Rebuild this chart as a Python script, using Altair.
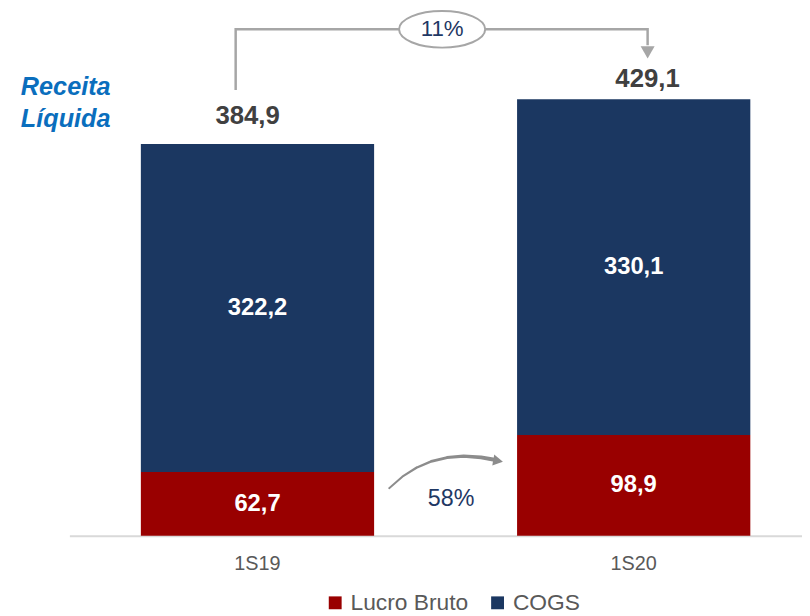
import altair as alt
import pandas as pd

# ---- data ----
periods = ["1S19", "1S20"]
lucro_bruto = [62.7, 98.9]
cogs = [322.2, 330.1]
receita_liquida = [384.9, 429.1]
series_names = ["Lucro Bruto", "COGS"]
series_colors = ["#990000", "#1B3761"]
growth_receita = "11%"
growth_lucro = "58%"
side_title = ["Receita", "Líquida"]

FONT = "Liberation Sans"


def br(v):
    return f"{v:.1f}".replace(".", ",")


rows = []
for i, p in enumerate(periods):
    lb, cg = lucro_bruto[i], cogs[i]
    rows.append(dict(period=p, series=series_names[0], y0=0, y1=lb, mid=lb / 2, label=br(lb)))
    rows.append(dict(period=p, series=series_names[1], y0=lb, y1=lb + cg, mid=lb + cg / 2, label=br(cg)))
bars_df = pd.DataFrame(rows)
tot_df = pd.DataFrame(dict(period=periods, total=receita_liquida,
                           label=[br(v) for v in receita_liquida]))

# annotation geometry (u: 0 = first period centre, 1 = second period centre)
bracket_u = [-0.058, -0.058, 1.037, 1.037]
bracket_y = [438.0, 497.6, 497.6, 482.0]
curve_u = [0.35, 0.385, 0.4224, 0.4618, 0.5039, 0.5479, 0.5942, 0.6263]
curve_y = [46.7, 58.0, 66.8, 73.1, 76.8, 78.3, 77.0, 74.9]
curve_w = [1.2, 1.6, 2.0, 2.4, 2.9, 3.4, 3.9, 4.3]

bracket_df = pd.DataFrame(dict(u=bracket_u, y=bracket_y, i=range(len(bracket_u))))
curve_df = pd.DataFrame(dict(u=curve_u, y=curve_y, w=curve_w))
arrow_down_df = pd.DataFrame(dict(u=[1.037], y=[475.0]))
arrow_right_df = pd.DataFrame(dict(u=[0.6395], y=[73.6]))
ellipse_df = pd.DataFrame(dict(u=[0.4908], y=[497.6], label=[growth_receita]))
pct2_df = pd.DataFrame(dict(u=[0.5145], y=[36.0], label=[growth_lucro]))
title_df = pd.DataFrame(dict(u=[-0.629, -0.629], y=[433.0, 401.8], label=side_title))

# ---- scales ----
x_band = alt.Scale(domain=periods, range=[0, 760], paddingInner=0.38, paddingOuter=0.19)
x_u = alt.Scale(domain=[-0.5, 1.5], range=[0, 760], nice=False, zero=False)
y_s = alt.Scale(domain=[0, 500], nice=False, zero=False)

X = alt.X("period:N", scale=x_band, sort=periods,
          axis=alt.Axis(title=None, ticks=False, domainColor="#D9D9D9", domainWidth=2,
                        labelFontSize=20, labelColor="#595959", labelPadding=18,
                        labelFont=FONT, labelAngle=0, grid=False))
XU = alt.X("u:Q", scale=x_u, axis=None)
YQ = alt.Y("y:Q", scale=y_s, axis=None)

bars = alt.Chart(bars_df).mark_bar().encode(
    x=X,
    y=alt.Y("y0:Q", scale=y_s, axis=None),
    y2="y1:Q",
    color=alt.Color("series:N", scale=alt.Scale(domain=series_names, range=series_colors),
                    legend=alt.Legend(title=None, orient="none", legendX=257, legendY=570,
                                      direction="horizontal", symbolType="square",
                                      symbolSize=169, symbolStrokeWidth=0,
                                      labelFontSize=23, labelColor="#595959", labelFont=FONT,
                                      labelOffset=4, columnPadding=18)),
)

inner = alt.Chart(bars_df).mark_text(font=FONT, fontSize=24, fontWeight="bold",
                                     color="white", baseline="middle").encode(
    x=alt.X("period:N", scale=x_band, sort=periods, axis=None),
    y=alt.Y("mid:Q", scale=y_s, axis=None),
    text="label:N",
)

tot1 = alt.Chart(tot_df).transform_filter(alt.datum.period == periods[0]).mark_text(
    font=FONT, fontSize=26, fontWeight="bold", color="#404040", baseline="middle",
    dx=-10, dy=-28).encode(
    x=alt.X("period:N", scale=x_band, sort=periods, axis=None),
    y=alt.Y("total:Q", scale=y_s, axis=None),
    text="label:N",
)
tot2 = alt.Chart(tot_df).transform_filter(alt.datum.period == periods[1]).mark_text(
    font=FONT, fontSize=26, fontWeight="bold", color="#404040", baseline="middle",
    dx=14, dy=-20).encode(
    x=alt.X("period:N", scale=x_band, sort=periods, axis=None),
    y=alt.Y("total:Q", scale=y_s, axis=None),
    text="label:N",
)

bracket = alt.Chart(bracket_df).mark_line(color="#A6A6A6", strokeWidth=2.5).encode(
    x=XU, y=YQ, order="i:Q")
arrow_down = alt.Chart(arrow_down_df).mark_point(
    shape="triangle-down", size=200, filled=True, color="#A6A6A6", opacity=1).encode(x=XU, y=YQ)

ellipse_path = "M -1 0 A 1 0.425 0 1 0 1 0 A 1 0.425 0 1 0 -1 0 Z"
ellipse = alt.Chart(ellipse_df).mark_point(
    shape=ellipse_path, size=7569, filled=False, fill="white", fillOpacity=1,
    stroke="#A6A6A6", strokeWidth=2, opacity=1).encode(x=XU, y=YQ)
ellipse_txt = alt.Chart(ellipse_df).mark_text(
    font=FONT, fontSize=22.5, color="#1F3864", baseline="middle").encode(x=XU, y=YQ, text="label:N")

curve = alt.Chart(curve_df).mark_trail(color="#8C8C8C", interpolate="monotone").encode(
    x=XU, y=YQ, size=alt.Size("w:Q", scale=alt.Scale(type="identity"), legend=None))
arrow_right = alt.Chart(arrow_right_df).mark_point(
    shape="triangle-right", size=130, filled=True, color="#8C8C8C", opacity=1, angle=10).encode(x=XU, y=YQ)
pct2 = alt.Chart(pct2_df).mark_text(
    font=FONT, fontSize=23.5, color="#1F3864", baseline="middle").encode(x=XU, y=YQ, text="label:N")

side = alt.Chart(title_df).mark_text(
    font=FONT, fontSize=25.5, fontWeight="bold", fontStyle="italic", color="#0A6EBD",
    align="left", baseline="alphabetic").encode(x=XU, y=YQ, text="label:N")

chart = alt.layer(
    bars, inner, tot1, tot2, bracket, arrow_down, ellipse, ellipse_txt, curve, arrow_right, pct2, side
).resolve_scale(x="independent").properties(
    width=740, height=514,
    autosize=alt.AutoSizeParams(type="none"),
    padding={"left": 62, "top": 16, "right": 0, "bottom": 78},
).configure(font=FONT).configure_view(stroke=None)

chart.save("out.html", embed_options={"renderer": "svg", "actions": False})
